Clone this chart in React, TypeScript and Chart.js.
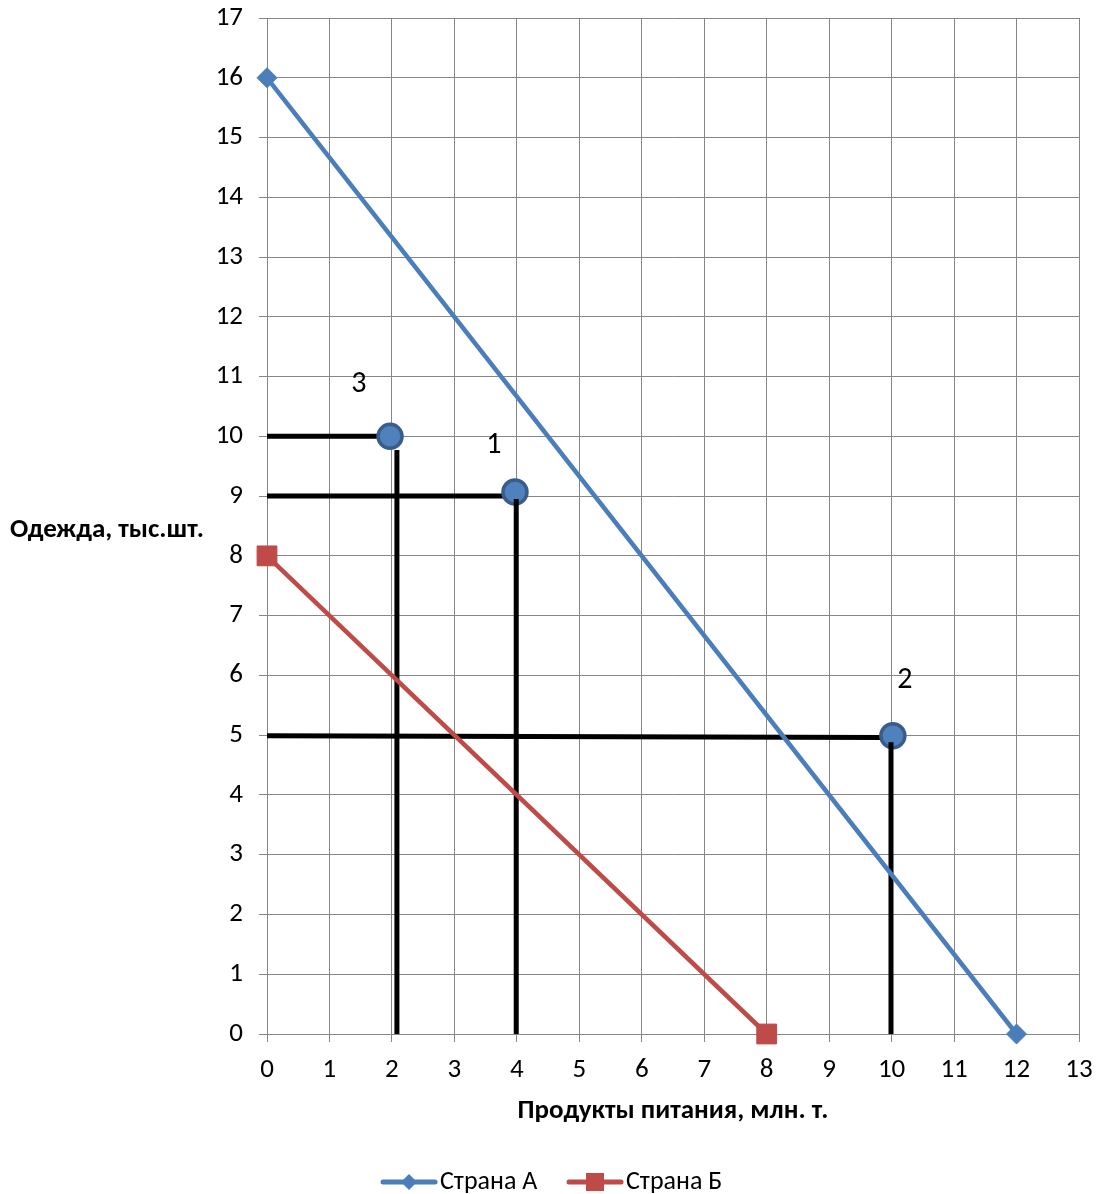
import { useEffect, useRef } from 'react';
import { Chart, registerables } from 'chart.js';

Chart.register(...registerables);

// ---- data ----
const seriesNames = ['Страна А', 'Страна Б'];
const countryAX = [0, 12];
const countryAY = [16, 0];
const countryBX = [0, 8];
const countryBY = [8, 0];

const pointNames = ['1', '2', '3'];
const pointX = [3.97, 10.02, 1.97];
const pointY = [9.07, 4.99, 10.0];
const labelX = [3.63, 10.21, 1.47];
const labelY = [9.84, 5.91, 10.86];

// horizontal guides: from x=0 to hEndX, y from hStartY to hEndY
const hEndX = [3.9, 9.85, 1.9];
const hStartY = [9.0, 4.99, 10.0];
const hEndY = [9.0, 4.96, 10.0];
// vertical guides: at vX from y=0 to vTop
const vX = [3.99, 9.99, 2.08];
const vTop = [8.95, 4.88, 9.77];

const xTicksMax = 13;
const yTicksMax = 17;
const xTitle = 'Продукты питания, млн. т.';
const yTitle = 'Одежда, тыс.шт.';

const FONT = 'Carlito, Lato, sans-serif';
const BLUE = '#4A7EBB';
const RED = '#BE4B48';
const GRID = '#868686';

const zip = (xs: number[], ys: number[]) => xs.map((x, i) => ({ x, y: ys[i] }));

const overlayPlugin = {
  id: 'overlay',
  afterDatasetsDraw(chart: any) {
    const ctx = chart.ctx;
    const xs = chart.scales.x;
    const ys = chart.scales.y;
    ctx.save();
    ctx.fillStyle = '#000';
    ctx.font = `30px ${FONT}`;
    ctx.textAlign = 'center';
    ctx.textBaseline = 'middle';
    pointNames.forEach((n, i) => {
      ctx.fillText(n, xs.getPixelForValue(labelX[i]), ys.getPixelForValue(labelY[i]));
    });
    // y title, horizontal
    ctx.font = `bold 27px ${FONT}`;
    ctx.textAlign = 'left';
    ctx.fillText(yTitle, 10, 530);
    // legend
    const ly = chart.height - 12;
    const items = [
      { name: seriesNames[0], color: BLUE, style: 'diamond', x0: 381 },
      { name: seriesNames[1], color: RED, style: 'square', x0: 567 },
    ];
    items.forEach((it) => {
      ctx.strokeStyle = it.color;
      ctx.lineWidth = 5;
      ctx.lineCap = 'round';
      ctx.beginPath();
      ctx.moveTo(it.x0 + 2, ly);
      ctx.lineTo(it.x0 + 54, ly);
      ctx.stroke();
      ctx.fillStyle = it.color;
      const cx = it.x0 + 28;
      if (it.style === 'diamond') {
        ctx.beginPath();
        ctx.moveTo(cx, ly - 8);
        ctx.lineTo(cx + 8, ly);
        ctx.lineTo(cx, ly + 8);
        ctx.lineTo(cx - 8, ly);
        ctx.closePath();
        ctx.fill();
      } else {
        ctx.fillRect(cx - 9, ly - 9, 18, 18);
      }
      ctx.fillStyle = '#000';
      ctx.font = `26px ${FONT}`;
      ctx.textAlign = 'left';
      ctx.fillText(it.name, it.x0 + 59, ly);
    });
    ctx.restore();
  },
};

export default function App() {
  const ref = useRef<HTMLCanvasElement>(null);
  useEffect(() => {
    document.body.style.margin = '0';
    if (!ref.current) return;
    const guideSets: any[] = [];
    hEndX.forEach((ex, i) => {
      guideSets.push({
        label: 'h' + i,
        data: [{ x: 0, y: hStartY[i] }, { x: ex, y: hEndY[i] }],
        borderColor: '#000',
        borderWidth: 5,
        pointRadius: 0,
        showLine: true,
        clip: false,
        order: 5,
      });
    });
    vX.forEach((vx, i) => {
      guideSets.push({
        label: 'v' + i,
        data: [{ x: vx, y: 0 }, { x: vx, y: vTop[i] }],
        borderColor: '#000',
        borderWidth: 5,
        pointRadius: 0,
        showLine: true,
        clip: false,
        order: 3,
      });
    });
    const chart = new Chart(ref.current, {
      type: 'scatter',
      data: {
        datasets: [
          {
            label: seriesNames[0],
            data: zip(countryAX, countryAY),
            showLine: true,
            borderColor: BLUE,
            backgroundColor: BLUE,
            borderWidth: 4.5,
            pointStyle: 'rectRot',
            pointRadius: 10,
            pointBorderWidth: 1,
            pointBorderColor: BLUE,
            clip: false,
            order: 2,
          },
          {
            label: seriesNames[1],
            data: zip(countryBX, countryBY),
            showLine: true,
            borderColor: RED,
            backgroundColor: RED,
            borderWidth: 4.5,
            pointStyle: 'rect',
            pointRadius: 14,
            pointBorderWidth: 1,
            pointBorderColor: RED,
            clip: false,
            order: 2,
          },
          {
            label: 'points',
            data: zip(pointX, pointY),
            showLine: false,
            backgroundColor: '#4F81BD',
            borderColor: '#385D8A',
            pointRadius: 12,
            pointBorderWidth: 3.5,
            clip: false,
            order: 4,
          },
          ...guideSets,
        ],
      },
      options: {
        animation: false,
        responsive: false,
        events: [],
        layout: { padding: { left: 0, right: 19, top: 18, bottom: 60 } },
        plugins: {
          legend: { display: false },
          tooltip: { enabled: false },
        },
        scales: {
          x: {
            type: 'linear',
            min: 0,
            max: xTicksMax,
            ticks: { stepSize: 1, color: '#000', font: { family: FONT, size: 27 }, padding: 12 },
            grid: { color: GRID, lineWidth: 1, tickLength: 8 },
            border: { color: GRID },
            title: {
              display: true,
              text: xTitle,
              color: '#000',
              font: { family: FONT, size: 27, weight: 'bold' },
              padding: { top: 0, bottom: 7 },
            },
            afterFit: (s: any) => {
              s.height = 100;
              s.paddingLeft = 0;
              s.paddingRight = 0;
            },
          },
          y: {
            type: 'linear',
            min: 0,
            max: yTicksMax,
            ticks: { stepSize: 1, color: '#000', font: { family: FONT, size: 27 }, padding: 16 },
            grid: { color: GRID, lineWidth: 1, tickLength: 8 },
            border: { color: GRID },
            afterFit: (s: any) => {
              s.width = 267;
              s.paddingTop = 0;
              s.paddingBottom = 0;
            },
          },
        },
      },
      plugins: [overlayPlugin],
    } as any);
    return () => chart.destroy();
  }, []);
  return <canvas ref={ref} width={1098} height={1194} style={{ display: 'block' }} />;
}
